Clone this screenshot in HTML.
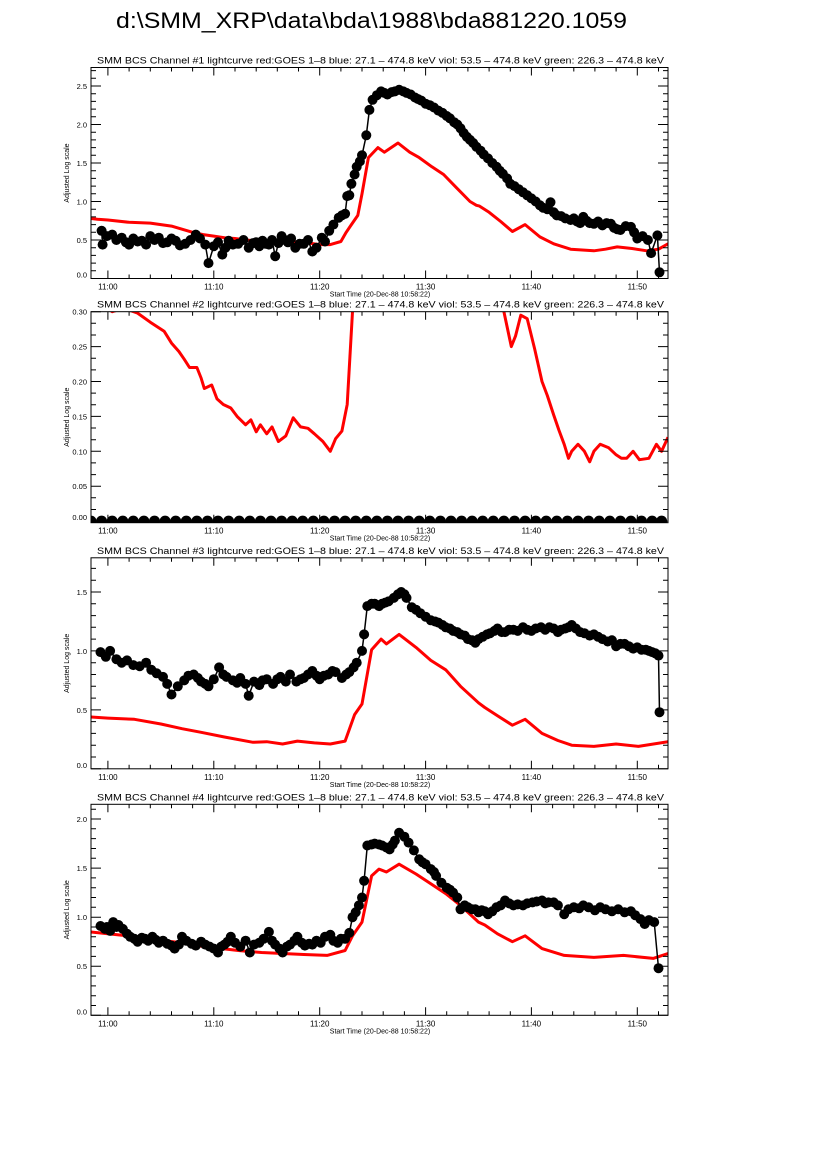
<!DOCTYPE html>
<html><head><meta charset="utf-8"><style>
html,body{margin:0;padding:0;background:#fff;}
svg{display:block;font-family:"Liberation Sans",sans-serif;}
</style></head><body>
<svg id="fig" width="826" height="1169" viewBox="0 0 826 1169" xmlns="http://www.w3.org/2000/svg">
<rect width="826" height="1169" fill="#fff"/>
<text x="116" y="28" font-size="22" textLength="511" lengthAdjust="spacingAndGlyphs">d:\SMM_XRP\data\bda\1988\bda881220.1059</text>
</svg>
<script>
// times are minutes after 11:00
const p1BlackT=[-0.6,-0.5,-0.1,0.4,0.8,1.3,1.7,2.0,2.4,2.8,3.2,3.6,4.0,4.4,4.8,5.2,5.6,6.0,6.4,6.8,7.3,7.8,8.3,8.7,9.2,9.5,10.0,10.4,10.8,11.1,11.4,11.8,12.3,12.8,13.3,13.7,14.0,14.3,14.6,14.9,15.2,15.5,15.8,16.1,16.4,16.7,17.0,17.3,17.7,18.1,18.5,18.9,19.3,19.7,20.2,20.5,20.9,21.3,21.8,22.1,22.4,22.6,22.8,23.0,23.3,23.5,23.8,24.0,24.4,24.7,25.0,25.4,25.8,26.1,26.4,26.8,27.1,27.5,27.9,28.2,28.6,29.0,29.3,29.6,30.0,30.4,30.8,31.2,31.6,32.0,32.3,32.7,33.0,33.3,33.6,33.9,34.2,34.5,34.8,35.2,35.5,35.9,36.3,36.7,37.0,37.3,37.7,38.0,38.4,38.8,39.2,39.6,40.0,40.4,40.8,41.1,41.5,41.8,42.1,42.4,42.8,43.2,43.7,44.0,44.3,44.6,44.9,45.2,45.5,45.9,46.3,46.7,47.1,47.5,47.8,48.1,48.4,48.9,49.4,49.7,50.0,50.5,51.0,51.3,51.9,52.1];
const p1Black=[0.62,0.44,0.55,0.57,0.50,0.53,0.47,0.44,0.52,0.48,0.49,0.44,0.55,0.50,0.53,0.46,0.47,0.52,0.49,0.43,0.45,0.50,0.57,0.52,0.44,0.20,0.42,0.47,0.31,0.40,0.49,0.44,0.45,0.50,0.40,0.46,0.47,0.42,0.49,0.45,0.44,0.50,0.29,0.46,0.55,0.50,0.47,0.52,0.40,0.45,0.45,0.50,0.35,0.40,0.53,0.48,0.62,0.70,0.79,0.82,0.84,1.07,1.08,1.23,1.35,1.45,1.52,1.60,1.86,2.19,2.32,2.38,2.43,2.41,2.39,2.42,2.43,2.45,2.43,2.41,2.39,2.35,2.33,2.31,2.27,2.25,2.22,2.18,2.15,2.11,2.08,2.03,2.00,1.95,1.89,1.84,1.80,1.76,1.71,1.66,1.61,1.56,1.50,1.45,1.40,1.36,1.30,1.23,1.20,1.16,1.12,1.08,1.04,1.00,0.95,0.92,0.90,0.99,0.86,0.82,0.81,0.78,0.76,0.78,0.74,0.72,0.80,0.75,0.72,0.71,0.74,0.69,0.72,0.71,0.66,0.64,0.63,0.68,0.67,0.60,0.52,0.55,0.50,0.33,0.56,0.08];
const p1RedT=[-1.7,-1,0,2,4,5,6,7,8,9,10,11,12,13,14,15,16,17,18,19,20,21,22,22.5,23,23.6,24,24.6,25.5,26.1,27.4,28.5,29.4,30.6,31.7,32.9,34.2,34.8,35.1,36,37.1,38.2,39.4,40.8,42.1,43.7,44.8,45.9,47,48.1,49.5,50.9,52,52.9];
const p1Red=[0.78,0.77,0.76,0.73,0.72,0.70,0.68,0.64,0.60,0.57,0.55,0.53,0.52,0.50,0.49,0.48,0.47,0.49,0.47,0.46,0.44,0.44,0.48,0.60,0.70,0.82,1.10,1.57,1.70,1.64,1.76,1.64,1.57,1.45,1.35,1.18,1.00,0.95,0.94,0.86,0.74,0.61,0.70,0.54,0.45,0.38,0.37,0.36,0.38,0.41,0.39,0.36,0.38,0.45];

const p2BlackT=[-1.6,-0.6,0.4,1.4,2.4,3.4,4.4,5.4,6.4,7.4,8.4,9.4,10.4,11.4,12.4,13.4,14.4,15.4,16.4,17.4,18.4,19.4,20.4,21.4,22.4,23.4,24.4,25.4,26.4,27.4,28.4,29.4,30.4,31.4,32.4,33.4,34.4,35.4,36.4,37.4,38.4,39.4,40.4,41.4,42.4,43.4,44.4,45.4,46.4,47.4,48.4,49.4,50.4,51.4,52.3];
const p2Black=[0,0,0,0,0,0,0,0,0,0,0,0,0,0,0,0,0,0,0,0,0,0,0,0,0,0,0,0,0,0,0,0,0,0,0,0,0,0,0,0,0,0,0,0,0,0,0,0,0,0,0,0,0,0,0];
const p2RedT=[-1.7,-0.5,0.4,1.5,2.8,4.0,5.3,6.0,6.7,7.2,7.7,8.4,8.8,9.1,9.8,10.3,10.9,11.6,12.2,13.0,13.5,14.0,14.4,15.0,15.5,16.1,16.8,17.5,18.2,18.9,19.5,20.3,21.0,21.5,22.1,22.6,23.1,23.8,36.8,37.4,38.1,38.5,39.0,39.6,40.3,41.0,41.5,42.1,42.6,43.1,43.5,43.8,44.4,45.0,45.5,45.9,46.5,47.3,48.0,48.5,49.0,49.6,50.2,51.1,51.8,52.3,52.9];
const p2Red=[0.34,0.31,0.30,0.305,0.298,0.285,0.272,0.255,0.243,0.232,0.22,0.22,0.205,0.19,0.195,0.175,0.167,0.162,0.15,0.138,0.145,0.128,0.138,0.125,0.135,0.114,0.122,0.148,0.135,0.133,0.125,0.114,0.10,0.118,0.129,0.167,0.30,0.45,0.45,0.30,0.25,0.265,0.295,0.29,0.247,0.20,0.18,0.152,0.13,0.11,0.09,0.10,0.11,0.10,0.085,0.10,0.11,0.105,0.095,0.09,0.09,0.10,0.088,0.09,0.11,0.10,0.12];

const p3BlackT=[-0.7,-0.2,0.2,0.8,1.3,1.8,2.4,3.0,3.6,4.1,4.6,5.2,5.6,6.0,6.6,7.2,7.6,8.1,8.5,8.8,9.2,9.5,10.0,10.5,10.9,11.2,11.8,12.2,12.5,13.0,13.3,13.8,14.3,14.6,15.0,15.6,16.0,16.3,16.8,17.2,17.8,18.2,18.5,18.9,19.3,19.7,20.0,20.4,20.8,21.2,21.5,22.1,22.5,22.8,23.2,23.5,24.0,24.2,24.5,24.9,25.2,25.6,25.9,26.2,26.5,27.0,27.4,27.7,28.0,28.2,28.7,29.1,29.5,30.0,30.5,30.9,31.2,31.6,31.9,32.3,32.6,33.0,33.3,33.7,34.0,34.4,34.7,35.0,35.4,35.8,36.1,36.5,36.8,37.2,37.5,37.9,38.3,38.7,39.2,39.6,40.0,40.4,40.9,41.3,41.7,42.1,42.5,42.8,43.2,43.5,43.8,44.2,44.6,45.0,45.5,45.9,46.3,46.7,47.2,47.6,48.0,48.4,48.8,49.2,49.6,50.0,50.4,50.8,51.1,51.4,51.7,52.0,52.1];
const p3Black=[0.99,0.95,1.00,0.93,0.90,0.92,0.88,0.87,0.90,0.84,0.81,0.78,0.72,0.63,0.70,0.75,0.79,0.80,0.77,0.74,0.72,0.70,0.76,0.86,0.80,0.78,0.75,0.73,0.77,0.72,0.62,0.74,0.71,0.75,0.76,0.72,0.76,0.78,0.74,0.80,0.74,0.76,0.77,0.80,0.83,0.79,0.76,0.79,0.80,0.83,0.82,0.77,0.80,0.82,0.86,0.90,1.00,1.14,1.38,1.40,1.40,1.38,1.40,1.41,1.42,1.45,1.48,1.50,1.48,1.45,1.37,1.35,1.32,1.29,1.26,1.25,1.24,1.22,1.20,1.19,1.17,1.16,1.14,1.13,1.10,1.09,1.07,1.10,1.12,1.14,1.15,1.17,1.19,1.16,1.16,1.18,1.18,1.17,1.20,1.18,1.17,1.19,1.20,1.18,1.20,1.19,1.16,1.18,1.19,1.20,1.22,1.19,1.16,1.15,1.13,1.14,1.12,1.10,1.08,1.09,1.04,1.06,1.06,1.04,1.02,1.03,1.01,1.01,1.00,0.99,0.98,0.96,0.48];
const p3RedT=[-1.7,0,2.5,5,7,8.8,11,13.7,15,16.5,17.9,19.5,21.0,22.4,23.3,24.0,24.9,25.8,26.3,27.5,29.1,30.5,31.9,33.3,35.0,35.6,36.8,38.2,39.4,41.0,42.5,43.8,45.9,48.0,50.1,52.9];
const p3Red=[0.44,0.43,0.42,0.38,0.34,0.31,0.27,0.225,0.23,0.21,0.235,0.22,0.21,0.235,0.46,0.55,1.01,1.10,1.06,1.14,1.03,0.92,0.84,0.70,0.56,0.52,0.45,0.37,0.42,0.30,0.24,0.20,0.19,0.21,0.19,0.23];

const p4BlackT=[-0.7,-0.3,-0.1,0.2,0.5,0.8,1.0,1.4,1.8,2.1,2.5,2.8,3.2,3.5,3.8,4.2,4.5,4.8,5.2,5.6,6.0,6.3,6.7,7.0,7.4,7.9,8.3,8.8,9.2,9.6,10.0,10.4,10.7,11.0,11.3,11.6,12.0,12.5,13.0,13.4,13.8,14.3,14.7,15.2,15.5,15.8,16.2,16.5,16.9,17.2,17.6,17.9,18.3,18.6,19.0,19.3,19.7,20.1,20.5,21.0,21.3,21.7,22.0,22.4,22.8,23.1,23.4,23.7,24.0,24.2,24.5,24.9,25.2,25.6,25.9,26.3,26.6,26.9,27.1,27.5,28.0,28.4,28.9,29.4,29.7,30.0,30.5,30.8,31.0,31.5,32.0,32.3,32.6,33.0,33.3,33.7,34.0,34.4,34.7,35.0,35.3,35.6,35.9,36.3,36.7,37.1,37.5,37.9,38.3,38.7,39.2,39.6,40.1,40.5,41.0,41.3,41.6,42.1,42.5,43.1,43.5,44.0,44.5,44.9,45.4,46.0,46.5,47.0,47.6,48.2,48.8,49.4,49.8,50.3,50.7,51.1,51.6,52.0,52.1];
const p4Black=[0.91,0.88,0.90,0.86,0.95,0.90,0.92,0.88,0.83,0.80,0.78,0.75,0.79,0.78,0.76,0.80,0.77,0.74,0.76,0.73,0.71,0.68,0.72,0.80,0.76,0.73,0.71,0.75,0.72,0.70,0.68,0.64,0.70,0.72,0.75,0.80,0.74,0.70,0.76,0.64,0.72,0.74,0.78,0.85,0.76,0.72,0.68,0.64,0.70,0.72,0.76,0.80,0.74,0.71,0.73,0.72,0.76,0.74,0.80,0.82,0.76,0.74,0.78,0.78,0.84,1.00,1.05,1.12,1.20,1.37,1.73,1.74,1.75,1.74,1.73,1.71,1.69,1.74,1.78,1.86,1.82,1.76,1.68,1.59,1.56,1.54,1.49,1.46,1.42,1.35,1.30,1.28,1.25,1.20,1.08,1.12,1.10,1.08,1.08,1.05,1.07,1.06,1.03,1.06,1.10,1.12,1.17,1.14,1.12,1.13,1.12,1.14,1.15,1.16,1.17,1.14,1.15,1.15,1.12,1.03,1.08,1.10,1.09,1.12,1.10,1.07,1.10,1.08,1.06,1.08,1.05,1.06,1.02,0.98,0.93,0.97,0.95,0.48];
const p4RedT=[-1.7,0,1.8,3.5,5.3,7,8.4,10,12.3,14.5,16.5,18.5,20.7,22.4,23.1,24.0,24.9,25.6,26.3,27.5,29.1,30.5,31.9,33.3,35.0,35.6,36.8,38.2,39.4,41.0,43.1,45.9,48.7,51.5,52.9];
const p4Red=[0.85,0.83,0.81,0.79,0.76,0.74,0.71,0.69,0.66,0.64,0.63,0.62,0.61,0.66,0.81,0.95,1.42,1.49,1.46,1.54,1.44,1.34,1.24,1.12,0.95,0.92,0.83,0.75,0.81,0.68,0.61,0.59,0.61,0.58,0.63];

const panelYMax=[2.74,0.30,1.79,2.15];
const panelYMin=[0,-0.0023,0,0];
const panelYMajor=[0.5,0.05,0.5,0.5];
const panelYMinorN=[5,3,5,5];
const panelYDec=[1,2,1,1];
const xTickLabels=["11:00","11:10","11:20","11:30","11:40","11:50"];
const xTickMinutes=[0,10,20,30,40,50];
const tMin=-1.6, tMax=52.9;

const NS="http://www.w3.org/2000/svg";
const svg=document.getElementById('fig');
function mk(tag,attrs,parent){const e=document.createElementNS(NS,tag);for(const k in attrs)e.setAttribute(k,attrs[k]);(parent||svg).appendChild(e);return e;}

const L=91,R=668,H=211;
const tops=[67.5,311.7,557.8,804.3];
const series=[
 [p1BlackT,p1Black,p1RedT,p1Red],
 [p2BlackT,p2Black,p2RedT,p2Red],
 [p3BlackT,p3Black,p3RedT,p3Red],
 [p4BlackT,p4Black,p4RedT,p4Red]];

for(let i=0;i<4;i++){
 const top=tops[i],bot=top+H;
 const g=mk('g',{});
 
 
 const xs=t=>L+(t-tMin)/(tMax-tMin)*(R-L);
 const ys=v=>bot-(v-panelYMin[i])/(panelYMax[i]-panelYMin[i])*H;
 const title=mk('text',{x:97,y:top-4,'font-size':9,textLength:567,lengthAdjust:'spacingAndGlyphs'},g);
 title.textContent='SMM BCS Channel #'+(i+1)+' lightcurve  red:GOES 1\u20138  blue: 27.1 \u2013 474.8 keV  viol: 53.5 \u2013 474.8 keV  green: 226.3 \u2013 474.8 keV';
 
 
 const cid='clip'+i;
 const cp=mk('clipPath',{id:cid},g);mk('rect',{x:L,y:top,width:R-L,height:H},cp);
 const plot=mk('g',{'clip-path':'url(#'+cid+')'},g);
 const [bt,bv,rt,rv]=series[i];
 const red=mk('polyline',{points:rt.map((t,k)=>xs(t).toFixed(1)+','+ys(rv[k]).toFixed(1)).join(' '),fill:'none',stroke:'#ff0000','stroke-width':3,'stroke-linejoin':'round'},plot);
 
 
 const bl=mk('polyline',{points:bt.map((t,k)=>xs(t).toFixed(1)+','+ys(bv[k]).toFixed(1)).join(' '),fill:'none',stroke:'#000','stroke-width':1.5},plot);
 
 
 for(let k=0;k<bt.length;k++){
  const c=mk('circle',{cx:xs(bt[k]).toFixed(1),cy:ys(bv[k]).toFixed(1),r:i==1?5.5:5,fill:'#000'},plot);
  
  
 }
 const fr=mk('rect',{x:L,y:top,width:R-L,height:H,fill:'none',stroke:'#000','stroke-width':1},g);
 
 
 let d='';
 for(let m=-2;m<=54;m+=2){const x=xs(m);if(x<L-0.5||x>R+0.5)continue;const len=(m%10===0)?8:4;d+=`M${x.toFixed(1)} ${bot}v${-len}M${x.toFixed(1)} ${top}v${len}`;}
 const minor=panelYMajor[i]/panelYMinorN[i];
 for(let k=0;;k++){const v=k*minor;if(v>panelYMax[i]+1e-9)break;const y=ys(v);const maj=(k%panelYMinorN[i]===0);const len=maj?10:5;d+=`M${L} ${y.toFixed(1)}h${len}M${R} ${y.toFixed(1)}h${-len}`;}
 const tk=mk('path',{d:d,stroke:'#000','stroke-width':1,fill:'none'},g);
 
 
 for(let k=0;k<xTickLabels.length;k++){
  const t=mk('text',{x:xs(xTickMinutes[k]).toFixed(1),y:bot+11,'font-size':8,'text-anchor':'middle'},g);
  t.textContent=xTickLabels[k];
  
  
 }
 for(let k=0;;k++){const v=k*panelYMajor[i];if(v>panelYMax[i]+1e-9)break;
  const t=mk('text',{x:87,y:(ys(v)+(k===0?-1:3)).toFixed(1),'font-size':7.5,'text-anchor':'end'},g);
  t.textContent=v.toFixed(panelYDec[i]);
  
  
 }
 const xt=mk('text',{x:380,y:bot+18,'font-size':7,'text-anchor':'middle'},g);
 xt.textContent='Start Time (20-Dec-88 10:58:22)';
 
 
 const cy=top+H/2;
 const yt=mk('text',{x:0,y:0,'font-size':7,'text-anchor':'middle',transform:`translate(69 ${cy}) rotate(-90)`},g);
 yt.textContent='Adjusted Log scale';
 
 
}
</script>
</body></html>
